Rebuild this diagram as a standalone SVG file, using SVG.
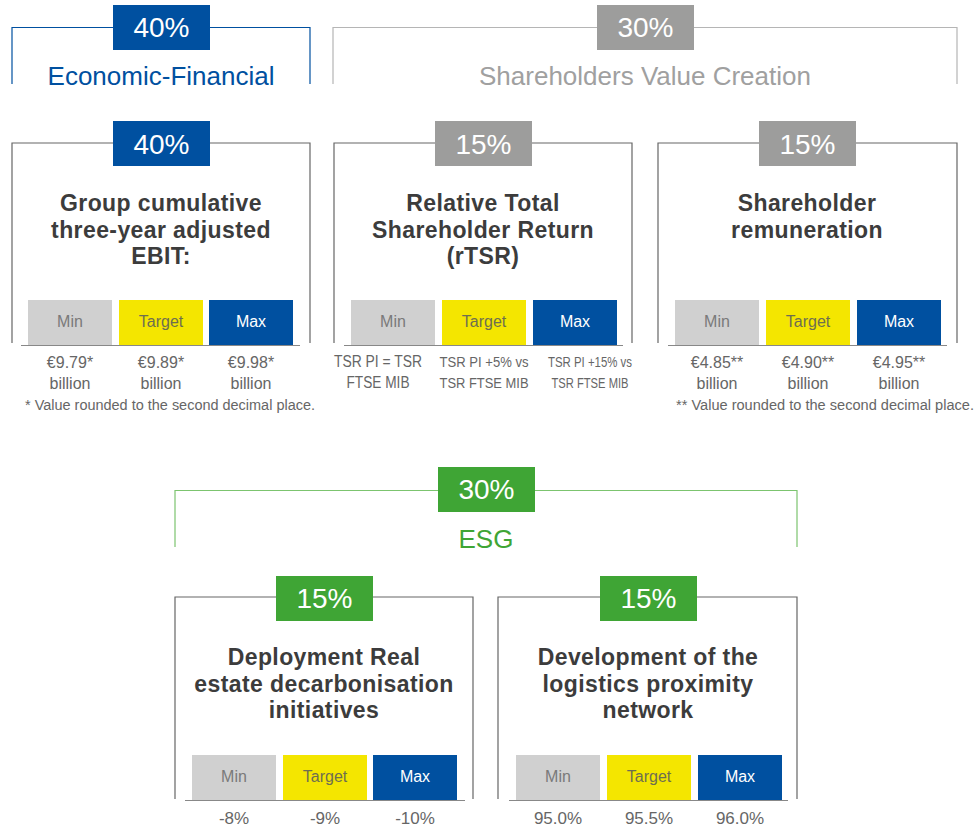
<svg xmlns="http://www.w3.org/2000/svg" width="976" height="827" viewBox="0 0 976 827">
<style>
text{font-family:"Liberation Sans",Arial,sans-serif}
.badge-t{font-size:28px;fill:#fff;text-anchor:middle}
.cat{font-size:26px;text-anchor:middle}
.title{font-size:23px;font-weight:bold;fill:#3c3c3c;text-anchor:middle;letter-spacing:0.4px}
.box{fill:none;stroke:#666;stroke-width:1.2}
.base{stroke:#888;stroke-width:1.2}
.lbl{font-size:16px;text-anchor:middle}
.val{font-size:16px;fill:#666;text-anchor:middle}
.val2{font-size:17px;fill:#666;text-anchor:middle}
.note{font-size:14px;fill:#666}
.bmin{fill:#d0d0d0}.bt{fill:#f4e600}.bmax{fill:#0050a0}
.tmin{fill:#7a7a7a}.tt{fill:#6e6e50}.tmax{fill:#fff}
.blue{fill:#0050a0}.grey{fill:#9d9d9c}.green{fill:#3fa535}
</style>

<g id="cat-economic">
<path d="M12 84 V27.5 H310 V84" fill="none" stroke="#0050a0" stroke-width="1.2"/>
<rect class="blue" x="113" y="5" width="97" height="45"/>
<text class="badge-t" x="161.5" y="37">40%</text>
<text class="cat" x="161" y="85" fill="#0050a0">Economic-Financial</text>
</g>

<g id="cat-shareholders">
<path d="M333 84 V27.5 H957 V84" fill="none" stroke="#b5b5b5" stroke-width="1.2"/>
<rect class="grey" x="597" y="5" width="97" height="45"/>
<text class="badge-t" x="645.5" y="37">30%</text>
<text class="cat" x="645" y="85" fill="#a0a0a0">Shareholders Value Creation</text>
</g>

<g id="cat-esg">
<path d="M175 547 V490.5 H797 V547" fill="none" stroke="#7cc46f" stroke-width="1.2"/>
<rect class="green" x="438" y="467" width="97" height="45"/>
<text class="badge-t" x="486.5" y="499">30%</text>
<text class="cat" x="486" y="548" fill="#3fa535">ESG</text>
</g>

<g id="card-ebit">
<path class="box" d="M12 343 V143 H310 V343"/>
<rect class="blue" x="113" y="121" width="97" height="45"/>
<text class="badge-t" x="161.5" y="154">40%</text>
<text class="title" x="161" y="211">Group cumulative</text>
<text class="title" x="161" y="238">three-year adjusted</text>
<text class="title" x="161" y="264">EBIT:</text>
<rect class="bmin" x="28" y="300" width="84" height="45"/>
<rect class="bt" x="119" y="300" width="84" height="45"/>
<rect class="bmax" x="209" y="300" width="84" height="45"/>
<text class="lbl tmin" x="70" y="327">Min</text>
<text class="lbl tt" x="161" y="327">Target</text>
<text class="lbl tmax" x="251" y="327">Max</text>
<line class="base" x1="21" y1="345.5" x2="300" y2="345.5"/>
<text class="val" x="70" y="368">€9.79*</text>
<text class="val" x="70" y="389">billion</text>
<text class="val" x="161" y="368">€9.89*</text>
<text class="val" x="161" y="389">billion</text>
<text class="val" x="251" y="368">€9.98*</text>
<text class="val" x="251" y="389">billion</text>
<text class="note" x="25" y="410" textLength="290" lengthAdjust="spacingAndGlyphs">* Value rounded to the second decimal place.</text>
</g>

<g id="card-rtsr">
<path class="box" d="M334 343 V143 H632 V343"/>
<rect class="grey" x="435" y="121" width="97" height="45"/>
<text class="badge-t" x="483.5" y="154">15%</text>
<text class="title" x="483" y="211">Relative Total</text>
<text class="title" x="483" y="238">Shareholder Return</text>
<text class="title" x="483" y="264">(rTSR)</text>
<rect class="bmin" x="351" y="300" width="84" height="45"/>
<rect class="bt" x="442" y="300" width="84" height="45"/>
<rect class="bmax" x="533" y="300" width="84" height="45"/>
<text class="lbl tmin" x="393" y="327">Min</text>
<text class="lbl tt" x="484" y="327">Target</text>
<text class="lbl tmax" x="575" y="327">Max</text>
<line class="base" x1="344" y1="345.5" x2="623" y2="345.5"/>
<text class="val" x="378" y="367" textLength="88" lengthAdjust="spacingAndGlyphs">TSR PI = TSR</text>
<text class="val" x="378" y="388" textLength="63" lengthAdjust="spacingAndGlyphs">FTSE MIB</text>
<text class="val" x="484" y="367" style="font-size:14px" textLength="89" lengthAdjust="spacingAndGlyphs">TSR PI +5% vs</text>
<text class="val" x="484" y="388" style="font-size:14px" textLength="89" lengthAdjust="spacingAndGlyphs">TSR FTSE MIB</text>
<text class="val" x="590" y="367" style="font-size:14px" textLength="84" lengthAdjust="spacingAndGlyphs">TSR PI +15% vs</text>
<text class="val" x="590" y="388" style="font-size:14px" textLength="77" lengthAdjust="spacingAndGlyphs">TSR FTSE MIB</text>
</g>

<g id="card-remuneration">
<path class="box" d="M658 343 V143 H957 V343"/>
<rect class="grey" x="759" y="121" width="97" height="45"/>
<text class="badge-t" x="807.5" y="154">15%</text>
<text class="title" x="807" y="211">Shareholder</text>
<text class="title" x="807" y="238">remuneration</text>
<rect class="bmin" x="675" y="300" width="84" height="45"/>
<rect class="bt" x="766" y="300" width="84" height="45"/>
<rect class="bmax" x="857" y="300" width="84" height="45"/>
<text class="lbl tmin" x="717" y="327">Min</text>
<text class="lbl tt" x="808" y="327">Target</text>
<text class="lbl tmax" x="899" y="327">Max</text>
<line class="base" x1="668" y1="345.5" x2="947" y2="345.5"/>
<text class="val" x="717" y="368">€4.85**</text>
<text class="val" x="717" y="389">billion</text>
<text class="val" x="808" y="368">€4.90**</text>
<text class="val" x="808" y="389">billion</text>
<text class="val" x="899" y="368">€4.95**</text>
<text class="val" x="899" y="389">billion</text>
<text class="note" x="676" y="410" textLength="298" lengthAdjust="spacingAndGlyphs">** Value rounded to the second decimal place.</text>
</g>

<g id="card-decarbonisation">
<path class="box" d="M175 799 V597 H473 V799"/>
<rect class="green" x="276" y="576" width="97" height="45"/>
<text class="badge-t" x="324.5" y="608">15%</text>
<text class="title" x="324" y="665">Deployment Real</text>
<text class="title" x="324" y="692">estate decarbonisation</text>
<text class="title" x="324" y="718">initiatives</text>
<rect class="bmin" x="192" y="755" width="84" height="45"/>
<rect class="bt" x="283" y="755" width="84" height="45"/>
<rect class="bmax" x="373" y="755" width="84" height="45"/>
<text class="lbl tmin" x="234" y="782">Min</text>
<text class="lbl tt" x="325" y="782">Target</text>
<text class="lbl tmax" x="415" y="782">Max</text>
<line class="base" x1="185" y1="800.5" x2="465" y2="800.5"/>
<text class="val2" x="234" y="824">-8%</text>
<text class="val2" x="325" y="824">-9%</text>
<text class="val2" x="415" y="824">-10%</text>
</g>

<g id="card-logistics">
<path class="box" d="M498 799 V597 H797 V799"/>
<rect class="green" x="600" y="576" width="97" height="45"/>
<text class="badge-t" x="648.5" y="608">15%</text>
<text class="title" x="648" y="665">Development of the</text>
<text class="title" x="648" y="692">logistics proximity</text>
<text class="title" x="648" y="718">network</text>
<rect class="bmin" x="516" y="755" width="84" height="45"/>
<rect class="bt" x="607" y="755" width="84" height="45"/>
<rect class="bmax" x="698" y="755" width="84" height="45"/>
<text class="lbl tmin" x="558" y="782">Min</text>
<text class="lbl tt" x="649" y="782">Target</text>
<text class="lbl tmax" x="740" y="782">Max</text>
<line class="base" x1="509" y1="800.5" x2="788" y2="800.5"/>
<text class="val2" x="558" y="824">95.0%</text>
<text class="val2" x="649" y="824">95.5%</text>
<text class="val2" x="740" y="824">96.0%</text>
</g>
</svg>
